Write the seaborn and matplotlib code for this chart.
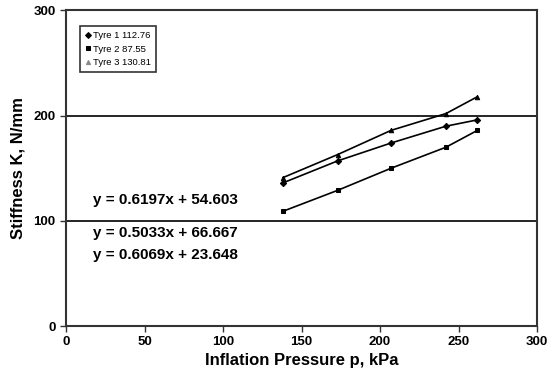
import matplotlib
matplotlib.use("Agg")
import matplotlib.pyplot as plt
import seaborn as sns
import pandas as pd

pressure = [138, 173, 207, 242, 262]
tyre1 = [136, 157, 174, 190, 196]
tyre2 = [109, 129, 150, 170, 186]
tyre3 = [141, 163, 186, 202, 218]
labels = ["Tyre 1 112.76", "Tyre 2 87.55", "Tyre 3 130.81"]
equations = ["y = 0.6197x + 54.603", "y = 0.5033x + 66.667", "y = 0.6069x + 23.648"]
eq_pos = [(17, 120), (17, 88.5), (17, 67.5)]

rows = []
for lab, vals in zip(labels, [tyre1, tyre2, tyre3]):
    for p, v in zip(pressure, vals):
        rows.append({"p": p, "K": v, "Tyre": lab})
df = pd.DataFrame(rows)

sns.set_theme(style="white")
plt.rcParams['font.family'] = ['Liberation Sans', 'DejaVu Sans']
plt.rcParams['text.color'] = 'black'
plt.rcParams['axes.labelcolor'] = 'black'
plt.rcParams['xtick.color'] = 'black'
plt.rcParams['ytick.color'] = 'black'

fig = plt.figure(figsize=(5.55, 3.79), dpi=100)
ax = fig.add_axes([0.119, 0.1398, 0.8486, 0.8325])

sns.lineplot(data=df, x="p", y="K", hue="Tyre", style="Tyre",
             palette=["black", "black", "black"],
             markers=["D", "s", "^"], dashes=False, markersize=3.2,
             linewidth=1.2, markeredgecolor="black", ax=ax)

ax.set_xlim(0, 300)
ax.set_ylim(0, 300)
ax.set_xticks([0, 50, 100, 150, 200, 250, 300])
ax.set_yticks([0, 100, 200, 300])
for yv in [100, 200]:
    ax.axhline(yv, color="black", linewidth=1.2, zorder=0)

for s in ax.spines.values():
    s.set_visible(True)
    s.set_color("#333333")
    s.set_linewidth(1.5)

ax.tick_params(axis="both", which="both", direction="out", length=4, width=1,
               color="#333333", labelsize=9.5, bottom=True, left=True)
for t in ax.get_xticklabels() + ax.get_yticklabels():
    t.set_fontweight("bold")

ax.set_xlabel("Inflation Pressure p, kPa", fontsize=12, fontweight="bold", labelpad=3)
ax.set_ylabel("Stiffness K, N/mm", fontsize=12, fontweight="bold", labelpad=6)

for txt, (xx, yy) in zip(equations, eq_pos):
    ax.text(xx, yy, txt, fontsize=11, fontweight="bold", ha="left", va="center")

handles, labs = ax.get_legend_handles_labels()
for h, c in zip(handles, ["black", "black", "#888888"]):
    h.set_markersize(3)
    h.set_linestyle("none")
    h.set_color(c)
    h.set_markeredgecolor(c)
leg = ax.legend(handles, labs, loc="upper left", bbox_to_anchor=(0.03, 0.95),
                fontsize=6.8, frameon=True, fancybox=False, edgecolor="black",
                handlelength=0.6, handletextpad=0.3, labelspacing=0.5,
                borderpad=0.5, borderaxespad=0)
leg.get_frame().set_linewidth(1.2)

fig.savefig("out.png", dpi=100)
